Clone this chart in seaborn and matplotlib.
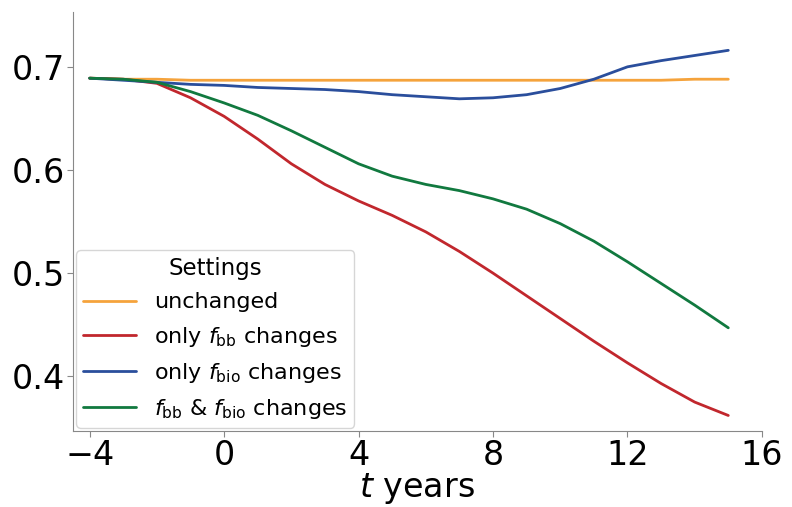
import numpy as np
import pandas as pd
import seaborn as sns
import matplotlib.pyplot as plt

# anos relativos
t = [-4, -3, -2, -1, 0, 1, 2, 3, 4, 5, 6, 7, 8, 9, 10, 11, 12, 13, 14, 15]

unchanged = [0.689, 0.688, 0.688, 0.687, 0.687, 0.687, 0.687, 0.687, 0.687, 0.687,
             0.687, 0.687, 0.687, 0.687, 0.687, 0.687, 0.687, 0.687, 0.688, 0.688]
only_fbb = [0.689, 0.688, 0.684, 0.670, 0.652, 0.630, 0.606, 0.586, 0.570, 0.556,
            0.540, 0.521, 0.500, 0.478, 0.456, 0.434, 0.413, 0.393, 0.375, 0.362]
only_fbio = [0.689, 0.687, 0.685, 0.683, 0.682, 0.680, 0.679, 0.678, 0.676, 0.673,
             0.671, 0.669, 0.670, 0.673, 0.679, 0.688, 0.700, 0.706, 0.711, 0.716]
both = [0.689, 0.688, 0.685, 0.676, 0.665, 0.653, 0.638, 0.622, 0.606, 0.594,
        0.586, 0.580, 0.572, 0.562, 0.548, 0.531, 0.511, 0.490, 0.469, 0.447]

labels = ['unchanged', r'only $f_{\rm bb}$ changes', r'only $f_{\rm bio}$ changes',
          r'$f_{\rm bb}$ & $f_{\rm bio}$ changes']
colors = ['#f5a33c', '#c1272d', '#2a4e9c', '#11793f']

df = pd.DataFrame({'t': t * 4,
                   'valor': unchanged + only_fbb + only_fbio + both,
                   'Settings': np.repeat(labels, len(t))})

sns.set_style('white')
plt.rcParams['mathtext.fontset'] = 'dejavusans'
plt.rcParams['text.color'] = 'black'
plt.rcParams['xtick.color'] = '#888888'
plt.rcParams['ytick.color'] = '#888888'
plt.rcParams['xtick.labelcolor'] = 'black'
plt.rcParams['ytick.labelcolor'] = 'black'
plt.rcParams['axes.labelcolor'] = 'black'
plt.rcParams['axes.edgecolor'] = '#888888'

fig, ax = plt.subplots(figsize=(7.92, 5.07), dpi=100)
sns.lineplot(data=df, x='t', y='valor', hue='Settings', palette=colors,
             hue_order=labels, linewidth=2, ax=ax)

ax.set_xlim(-4.5, 16)
ax.set_ylim(0.347, 0.753)
ax.set_xticks([-4, 0, 4, 8, 12, 16])
ax.set_yticks([0.4, 0.5, 0.6, 0.7])
ax.tick_params(labelsize=24, length=4, pad=2, left=True, bottom=True)
ax.set_xlabel(r'$t$ years', fontsize=24, labelpad=-1)
ax.set_ylabel('')
sns.despine()

leg = ax.legend(title='Settings', fontsize=16, title_fontsize=16.5, loc='lower left',
                handlelength=2.4, borderaxespad=0.15, borderpad=0.3, labelspacing=0.55)

plt.subplots_adjust(left=0.092, right=0.962, top=0.976, bottom=0.150)
plt.savefig('out.png')
